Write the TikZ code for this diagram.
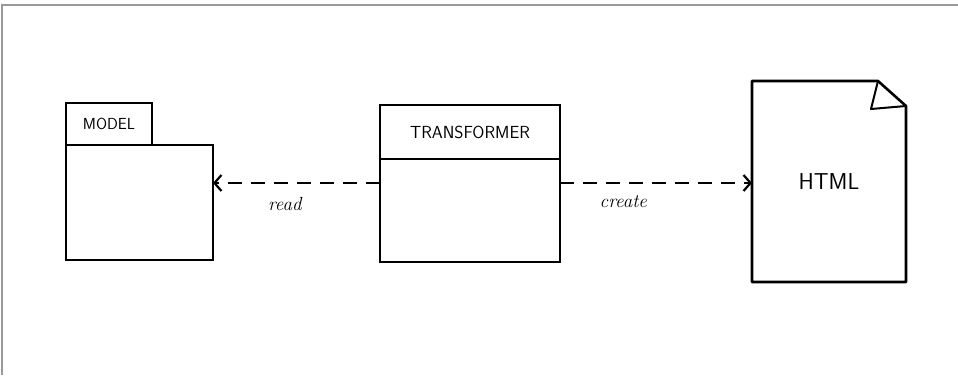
\documentclass[tikz,border=0pt]{standalone}
\usepackage{fontspec}
\usepackage{xcolor}
\usepackage{tikz}
\usetikzlibrary{calc,positioning,arrows.meta}
\tikzset{
  box/.style={rectangle, draw=black, line width=2.6pt, outer sep=0pt, inner sep=0pt},
  modelbody/.style={box, minimum width=147pt, minimum height=115pt},
  modeltab/.style={box, minimum width=86pt, minimum height=42pt, font=\sffamily\fontsize{16}{19}\selectfont},
  trhead/.style={box, minimum width=180pt, minimum height=54pt, font=\sffamily\fontsize{17.5}{21}\selectfont},
  trbody/.style={box, minimum width=180pt, minimum height=103pt},
  doc/.style={rectangle, outer sep=0pt, inner sep=0pt, minimum width=154pt, minimum height=201pt, font=\sffamily\fontsize{23}{27}\selectfont},
  dline/.style={draw, line width=2.4pt, dash pattern=on 14pt off 9pt, -{Straight Barb[length=7pt,width=16pt,line width=2.2pt]}},
  lbl/.style={inner sep=0pt, font=\itshape\fontsize{19}{22}\selectfont},
  frame/.style={draw=gray!80, line width=1.5pt},
}

\begin{document}
\begin{tikzpicture}[x=1pt,y=-1pt]
    \useasboundingbox (0,0) rectangle (958,375);
    \draw[frame] (2,375) -- (2,5) -- (958,5);

    % model package
    \node[modelbody] (model) at (139.5,202.5) {};
    \node[modeltab, above right=0pt and 0pt of model.north west] (mtab) {MODEL};

    % transformer class
    \node[trhead] (trh) at (470,132) {TRANSFORMER};
    \node[trbody, below=0pt of trh] (trb) {};

    % html document
    \node[doc] (html) at (829,181.5) {HTML};
    \draw[line width=2.6pt, line join=round]
      (html.north west) -- ([xshift=-28pt]html.north east)
      -- ([yshift=-25pt]html.north east) -- (html.south east)
      -- (html.south west) -- cycle;
    \draw[line width=2pt, line join=round]
      ([xshift=-28pt]html.north east) -- ([xshift=-35pt,yshift=-28pt]html.north east)
      -- ([yshift=-25pt]html.north east);

    \coordinate (rd) at ([yshift=-24pt]trb.north west);
    \coordinate (cr) at ([yshift=-24pt]trb.north east);

    \begin{scope}[every path/.style=dline]
      \path (rd) -- node[lbl, pos=0.57, below=13pt] (read) {read} (model.east |- rd);
      \path (cr) -- node[lbl, pos=0.33, below=11pt] (create) {create} (html.west |- cr);
    \end{scope}
\end{tikzpicture}
\end{document}
